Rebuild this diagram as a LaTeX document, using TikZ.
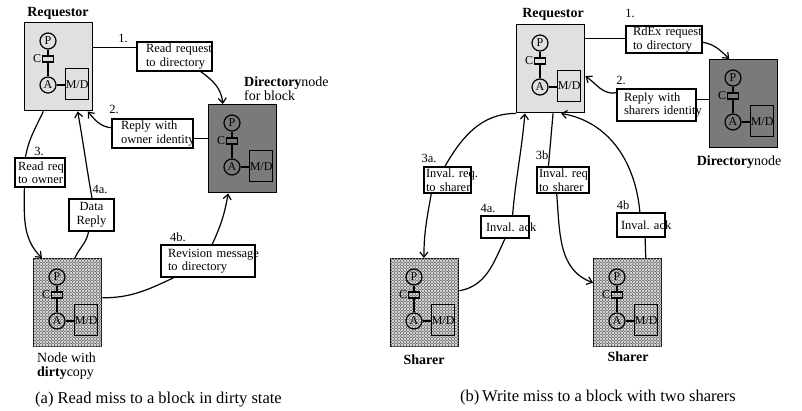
\documentclass[tikz,border=0pt]{standalone}
\usepackage{fontspec}
\setmainfont{Liberation Serif}
\usetikzlibrary{arrows.meta,patterns.meta}
\frenchspacing

\newcommand\msgfont{\fontsize{12.5}{13.5}\selectfont}
\newcommand\tagfont{\fontsize{14}{14}\selectfont}
\newcommand\partfont{\fontsize{12}{12}\selectfont}

% fine diagonal hatching for the nodes holding a copy
\tikzdeclarepattern{
  name=finehatch,
  type=uncolored,
  bottom left={(0pt,0pt)},
  top right={(2.5pt,2.5pt)},
  tile size={(2.5pt,2.5pt)},
  code={
    \draw[line width=0.8pt] (-1.25pt,1.25pt) -- (1.25pt,-1.25pt);
    \draw[line width=0.8pt] (0pt,2.5pt) -- (2.5pt,0pt);
    \draw[line width=0.8pt] (1.25pt,3.75pt) -- (3.75pt,1.25pt);
  }
}

% one processing node: processor P, cache C, assist A, memory/directory M/D
\newcommand\procunit[4]{%
\begin{scope}[shift={(#2,#3)}]
  \node[unitbox,#4,anchor=north west] (#1) at (0,0) {};
  \node[pcirc] (#1-p) at (24,19) {P};
  \node[cachebox] (#1-c) at (24,37) {};
  \node[part,anchor=east] (#1-cl) at (#1-c.west) {C};
  \node[pcirc] (#1-a) at (24,63) {A};
  \node[membox,anchor=north west] (#1-m) at (41,46) {M/D};
  \draw[wire] (#1-p) -- (#1-c) -- (#1-a);
  \draw[wire] (#1-a) -- (#1-a -| #1-m.west);
\end{scope}}

\begin{document}
\begin{tikzpicture}[x=1pt,y=-1pt,
  unitbox/.style={draw,line width=1.4pt,minimum width=68pt,minimum height=88pt,inner sep=0pt},
  reqfill/.style={fill=black!12},
  dirfill/.style={fill=black!52},
  hatchfill/.style={fill=black!8,postaction={pattern=finehatch,pattern color=black!55}},
  pcirc/.style={circle,draw,line width=1.2pt,minimum size=16pt,inner sep=0pt,font=\partfont},
  cachebox/.style={draw,line width=1.2pt,minimum width=11pt,minimum height=6pt,inner sep=0pt},
  membox/.style={draw,line width=1.2pt,minimum width=23pt,minimum height=31pt,inner sep=0pt,font=\partfont},
  part/.style={inner sep=0.5pt,font=\partfont},
  wire/.style={line width=1.2pt},
  msg/.style={draw,line width=1.2pt,fill=white,align=left,font=\msgfont,inner ysep=1pt},
  steplbl/.style={inner sep=0pt,font=\msgfont},
  tag/.style={inner sep=0pt,font=\tagfont,align=left},
  caption/.style={inner sep=0pt,font=\fontsize{16.5}{17}\selectfont,anchor=west},
  conn/.style={line width=1.2pt},
  arr/.style={conn,-{Straight Barb[length=5pt,width=8pt]}}
]
\useasboundingbox (0,0) rectangle (802,410);

% ---------------- (a) read miss to a dirty block ----------------
\procunit{reqa}{24}{22}{reqfill}
\procunit{dira}{208}{104}{dirfill}
\procunit{dirty}{33}{258}{hatchfill}

\node[tag,font=\tagfont\bfseries] (reqa-t) at (58,13) {Requestor};
\node[tag,anchor=west] (dira-t) at (244,88.5) {\textbf{Directory}node\\for block};
\node[tag,anchor=west] (dirty-t) at (37,366.5) {Node with\\\textbf{dirty}copy};

\node[msg,text width=57pt,inner xsep=9pt,minimum height=29pt] (m1a) at (174.5,56.5) {\mbox{Read request}\\\mbox{to directory}};
\node[msg,text width=63pt,inner xsep=9pt,minimum height=29pt] (m2a) at (152.5,133.5) {\mbox{Reply with}\\\mbox{owner identity}};
\node[msg,text width=44pt,inner xsep=3pt,minimum height=29pt] (m3a) at (40,172.5) {\mbox{Read req}\\\mbox{to owner}};
\node[msg,text width=41pt,inner xsep=2pt,minimum height=32pt,align=center] (m4a) at (91.5,215) {Data\\Reply};
\node[msg,text width=80pt,inner xsep=7pt,minimum height=32pt] (m4b) at (208,261) {\mbox{Revision message}\\\mbox{to directory}};

\node[steplbl] (s1a) at (123,38) {1.};
\node[steplbl] (s2a) at (114,109) {2.};
\node[steplbl] (s3a) at (39,151) {3.};
\node[steplbl] (s4aa) at (100,189) {4a.};
\node[steplbl] (s4ba) at (178,237) {4b.};

\draw[conn] (reqa.29) -- (reqa.29 -| m1a.west);
\draw[arr] (m1a.-30) to[out=-35,in=95] (dira.114);
\draw[conn] (dira.164) -- (dira.164 -| m2a.east);
\draw[arr] (m2a.172) to[out=175,in=-50] (reqa.-57);
\draw[conn] (reqa.-109) to[out=-115,in=80] (m3a.134);
\draw[arr] (m3a.-136) to[out=-90,in=135] (dirty.120);
\draw[conn] (dirty.81) to[out=65,in=-100] (m4a.-100);
\draw[arr] (m4a.88) to[out=100,in=-80] (reqa.-67);
\draw[conn] (dirty.8) to[out=0,in=-155] (m4b.-154);
\draw[arr] (m4b.76) to[out=65,in=-100] (dira.-108);

\node[caption] (capa) at (35,400) {(a) Read miss to a block in dirty state};

% ---------------- (b) write miss to a shared block ----------------
\procunit{reqb}{516}{24}{reqfill}
\procunit{dirb}{709}{59}{dirfill}
\procunit{sh1}{390}{258}{hatchfill}
\procunit{sh2}{593}{258}{hatchfill}

\node[tag,font=\tagfont\bfseries] (reqb-t) at (553,14) {Requestor};
\node[tag] (dirb-t) at (739,162) {\textbf{Directory}node};
\node[tag,font=\tagfont\bfseries] (sh1-t) at (424,360) {Sharer};
\node[tag,font=\tagfont\bfseries] (sh2-t) at (628,357) {Sharer};

\node[msg,text width=62pt,inner xsep=7pt,minimum height=27pt] (m1b) at (664,39.5) {\mbox{RdEx request}\\\mbox{to directory}};
\node[msg,text width=65pt,inner xsep=7pt,minimum height=32pt] (m2b) at (656.5,105) {\mbox{Reply with}\\\mbox{sharers identity}};
\node[msg,text width=43pt,inner xsep=2pt,minimum height=26pt] (m3ab) at (447.5,180) {\mbox{Inval. req.}\\\mbox{to sharer}};
\node[msg,text width=38pt,inner xsep=5pt,minimum height=22pt] (m4ab) at (505,227) {\mbox{Inval. ack}};
\node[msg,text width=48pt,inner xsep=2pt,minimum height=26pt] (m3bb) at (563,180) {\mbox{Inval. req.}\\\mbox{to sharer}};
\node[msg,text width=40pt,inner xsep=4pt,minimum height=24pt] (m4bb) at (641,225) {\mbox{Inval. ack}};

\node[steplbl] (s1b) at (630,13) {1.};
\node[steplbl] (s2b) at (621,80) {2.};
\node[steplbl] (s3ab) at (429,158) {3a.};
\node[steplbl] (s3bb) at (542,155) {3b};
\node[steplbl] (s4ab) at (488,208) {4a.};
\node[steplbl] (s4bb) at (623,205) {4b};

\draw[conn] (reqb.41) -- (reqb.41 -| m1b.west);
\draw[arr] (m1b.-4) to[out=-10,in=135] (dirb.108);
\draw[conn] (dirb.173) -- (dirb.173 -| m2b.east);
\draw[arr] (m2b.163) to[out=190,in=-35] (reqb.-12);
\draw[conn] (reqb.south west) to[out=180,in=60] (m3ab.101);
\draw[arr] (m3ab.-140) to[out=-100,in=90] (sh1.91);
\draw[conn] (sh1.19) to[out=10,in=-115] (m4ab.-90);
\draw[arr] (m4ab.57) to[out=85,in=-95] (reqb.-120);
\draw[conn] (reqb.-87) -- (m3bb.137);
\draw[arr] (m3bb.-115) to[out=-85,in=160] (sh2.150);
\draw[conn] (sh2.68) -- (m4bb.-72);
\draw[arr] (m4bb.95) to[out=95,in=-10] (reqb.-77);

\node[caption] (capb) at (460,398) {(b)\,Write miss to a block with two sharers};
\end{tikzpicture}
\end{document}
